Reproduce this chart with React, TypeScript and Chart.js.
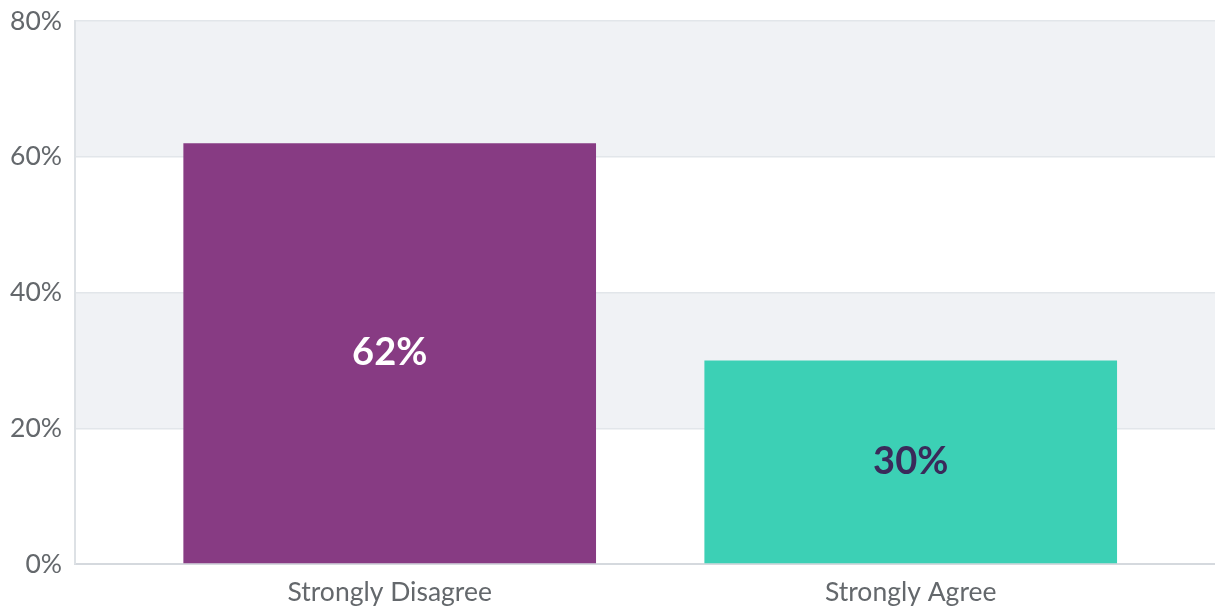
import React, { useEffect, useRef } from "react";
import { Chart, registerables } from "chart.js";

Chart.register(...registerables);

const categories: string[] = ["Strongly Disagree", "Strongly Agree"];
const values: number[] = [62, 30];
const barColors: string[] = ["#873B83", "#3CD0B5"];
const valueLabelColors: string[] = ["#FFFFFF", "#3A2A5A"];
const yTicks: number[] = [0, 20, 40, 60, 80];
const bandRanges: [number, number][] = [
  [20, 40],
  [60, 80],
];

const FONT = "Lato, 'Noto Sans', sans-serif";

const bandsPlugin = {
  id: "bands",
  beforeDraw(chart: any) {
    const { ctx, chartArea, scales } = chart;
    const y = scales.y;
    ctx.save();
    ctx.fillStyle = "#F0F2F5";
    for (const [a, b] of bandRanges) {
      const top = y.getPixelForValue(b);
      const bot = y.getPixelForValue(a);
      ctx.fillRect(chartArea.left, top, chartArea.right - chartArea.left, bot - top);
    }
    ctx.restore();
  },
};

const valueLabelPlugin = {
  id: "valueLabels",
  afterDatasetsDraw(chart: any) {
    const { ctx } = chart;
    const meta = chart.getDatasetMeta(0);
    ctx.save();
    ctx.font = `bold 38px ${FONT}`;
    ctx.textAlign = "center";
    ctx.textBaseline = "middle";
    meta.data.forEach((bar: any, i: number) => {
      const props = bar.getProps(["x", "y", "base"], true);
      ctx.fillStyle = valueLabelColors[i];
      ctx.fillText(`${values[i]}%`, props.x, (props.y + props.base) / 2);
    });
    ctx.restore();
  },
};

export default function App() {
  const canvasRef = useRef<HTMLCanvasElement | null>(null);

  useEffect(() => {
    if (!canvasRef.current) return;
    const chart = new Chart(canvasRef.current, {
      type: "bar",
      data: {
        datasets: [
          {
            data: values.map((v, i) => ({ x: i, y: v })),
            backgroundColor: barColors,
            borderWidth: 0,
            categoryPercentage: 1,
            barPercentage: 0.792,
          },
        ],
      },
      plugins: [bandsPlugin, valueLabelPlugin],
      options: {
        animation: false,
        responsive: false,
        layout: { padding: { top: 21, right: 0, left: 0, bottom: 0 } },
        plugins: {
          legend: { display: false },
          tooltip: { enabled: false },
        },
        scales: {
          x: {
            type: "linear",
            offset: false,
            min: -0.604,
            max: 1.584,
            grid: { display: false, drawTicks: false },
            border: { display: true, color: "#D5D9DE", width: 2 },
            afterBuildTicks(scale: any) {
              scale.ticks = categories.map((_, i) => ({ value: i }));
            },
            afterFit(scale: any) {
              scale.height = 43;
            },
            ticks: {
              includeBounds: false,
              stepSize: 1,
              padding: 13,
              maxRotation: 0,
              color: "#64686C",
              font: { family: FONT, size: 26.5 },
              callback: (v: any) => categories[Number(v)] ?? "",
            },
          },
          y: {
            min: 0,
            max: 80,
            afterBuildTicks(scale: any) {
              scale.ticks = yTicks.map((v) => ({ value: v }));
            },
            afterFit(scale: any) {
              scale.width = 75;
              scale.paddingTop = 0;
              scale.paddingBottom = 0;
            },
            grid: { color: "#E2E6EA", lineWidth: 1.5, drawTicks: false },
            border: { display: true, color: "#DDE1E5", width: 2 },
            ticks: {
              padding: 13,
              color: "#64686C",
              font: { family: FONT, size: 26.5 },
              callback: (v: any) => `${v}%`,
            },
          },
        },
      },
    });
    return () => chart.destroy();
  }, []);

  return (
    <div
      style={{
        position: "fixed",
        left: 0,
        top: 0,
        width: 1215,
        height: 607,
        background: "#FFFFFF",
      }}
    >
      <canvas ref={canvasRef} width={1215} height={607} style={{ display: "block" }} />
    </div>
  );
}
